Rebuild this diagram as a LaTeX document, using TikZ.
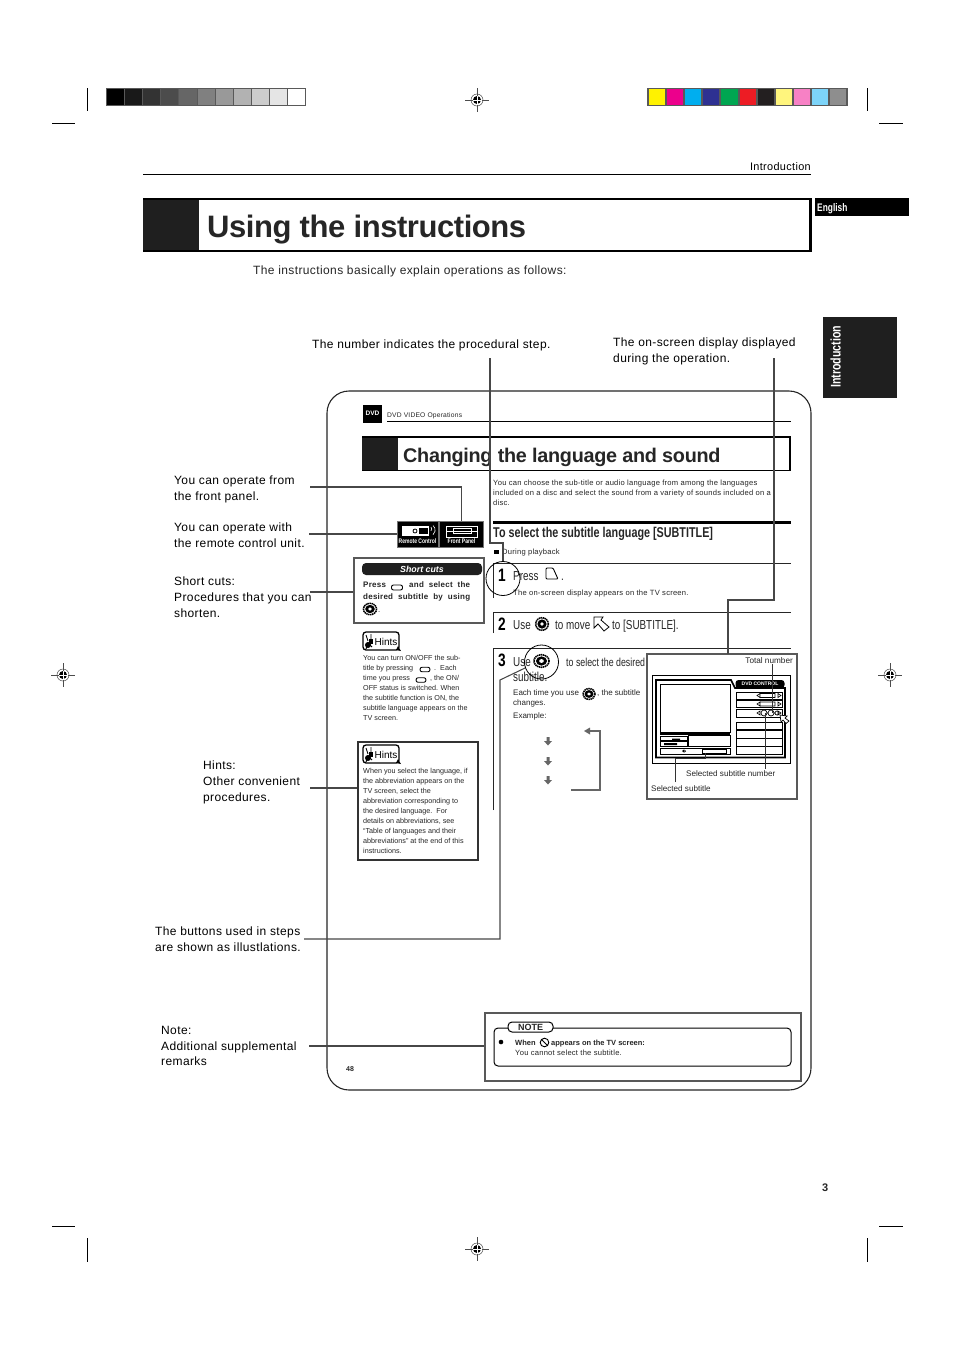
\documentclass[tikz,border=0pt]{standalone}
\usepackage{fontspec}
\setmainfont{Liberation Sans}
\newfontfamily\widefont[LetterSpace=3.2]{Liberation Sans}
\newfontfamily\smallfont[LetterSpace=3]{Liberation Sans}
\newfontfamily\tightfont[LetterSpace=-1.4]{Liberation Sans}
\newfontfamily\condfont[FakeStretch=0.76]{Liberation Sans}
\usetikzlibrary{positioning}

\definecolor{barframe}{gray}{0.35}
\definecolor{inktext}{gray}{0.15}
\definecolor{pagetab}{gray}{0.12}

\tikzset{
    txt/.style={anchor=mid west, inner sep=0pt, text=inktext, font=\smallfont\fontsize{7.6}{10}\selectfont},
    para/.style={anchor=north west, align=left, inner sep=0pt, yshift=-2.5pt, text=inktext, font=\fontsize{7.2}{10}\selectfont},
    calltxt/.style={anchor=north west, align=left, inner sep=0pt, yshift=-3pt, text=black, font=\widefont\fontsize{12}{15.6}\selectfont},
    steptxt/.style={anchor=mid west, inner sep=0pt, yshift=-2.5pt, text=inktext, font=\condfont\fontsize{13}{15}\selectfont},
    stepnum/.style={anchor=mid west, inner sep=0pt, yshift=-4pt, text=black, font=\condfont\bfseries\fontsize{18}{18}\selectfont},
    callout/.style={draw=black!72, line width=1.05pt},
    stepline/.style={draw=black!85, line width=0.8pt},
    ringmark/.style={circle, draw=black, line width=0.8pt, minimum size=34pt, inner sep=0pt},
    greybox/.style={rectangle, draw=black!65, line width=1.2pt, fill=white, inner sep=0pt},
    monrow/.style={draw=black, line width=0.8pt, fill=white},
    crop/.style={draw=black, line width=0.9pt},
    dialicon/.pic={
        \draw[black, line width=1.6pt, dash pattern=on 1.4pt off 0.6pt] (0,0) circle (6.3);
        \fill[white] (0,0) circle (5.2);
        \fill[black] (0,0) circle (4.6);
        \fill[white] (0,0) circle (1.9);
    },
    ovalbtn/.pic={
        \draw[black, line width=0.9pt, fill=white, rounded corners=2pt] (-5.5,-2.5) rectangle (5.5,2.5);
    },
    hintsicon/.pic={
        \draw[black, line width=1.3pt, fill=white, rounded corners=3pt] (0,0) rectangle (36,18);
        \fill[black] (5,13) circle (3);
        \draw[black, line width=1pt] (3,17) -- (5,11) -- (9,15);
        \fill[black] (6,7) rectangle (10,12);
        \draw[black, line width=0.9pt] (3,3) -- (5,9) (8,2) -- (8,8);
        \fill[black] (35,14) -- (38,19) -- (33,18) -- cycle;
        \node[anchor=mid west, inner sep=0pt, yshift=-1.5pt, font=\fontsize{10}{11}\selectfont] at (11.5,9) {Hints};
    },
    regmark/.pic={
        \draw[black!70, line width=0.5pt] (-12,0) -- (12,0);
        \draw[black!70, line width=0.5pt] (0,-12) -- (0,12);
        \draw[black!70, line width=0.5pt] (0,0) circle (6);
        \fill[black] (0,0) circle (4);
        \draw[white, line width=0.7pt] (-4.5,0) -- (4.5,0);
        \draw[white, line width=0.7pt] (0,-4.5) -- (0,4.5);
    }
}

\begin{document}
\begin{tikzpicture}[x=1pt,y=-1pt]
    \useasboundingbox (0,0) rectangle (954,1352);
    \fill[white] (0,0) rectangle (954,1352);

    % printer marks
    \draw[crop] (87,88) -- (87,111);
    \draw[crop] (52,123) -- (75,123);
    \draw[crop] (867,88) -- (867,111);
    \draw[crop] (879,123) -- (903,123);
    \draw[crop] (87,1238) -- (87,1262);
    \draw[crop] (52,1226) -- (75,1226);
    \draw[crop] (867,1238) -- (867,1262);
    \draw[crop] (879,1226) -- (903,1226);
    \pic at (477,100) {regmark};
    \pic at (477,1249) {regmark};
    \pic at (63,675) {regmark};
    \pic at (890,675) {regmark};

    \fill[barframe] (106,88) rectangle (306,106);
    \foreach \i/\g in {0/0,1/10,2/20,3/30,4/40,5/50,6/60,7/70,8/80,9/90,10/100}
        \fill[white!\g!black] ({107+\i*18.1},89) rectangle ({106+(\i+1)*18.1},105);

    \fill[barframe] (647,88) rectangle (848,106);
    \definecolor{c0}{HTML}{FFF200}\definecolor{c1}{HTML}{EC008C}\definecolor{c2}{HTML}{00AEEF}
    \definecolor{c3}{HTML}{2E3192}\definecolor{c4}{HTML}{00A651}\definecolor{c5}{HTML}{ED1C24}
    \definecolor{c6}{HTML}{231F20}\definecolor{c7}{HTML}{FFF57D}\definecolor{c8}{HTML}{F781C5}
    \definecolor{c9}{HTML}{7DD4F9}\definecolor{c10}{HTML}{8E8E8E}
    \foreach \i in {0,...,10}
        \fill[c\i] ({649+\i*18.1},89) rectangle ({648+(\i+1)*18.1-1},105);

    % page head
    \node[anchor=mid east, inner sep=0pt, yshift=-1pt, font=\widefont\fontsize{10.9}{12}\selectfont] (chapter) at (811,167) {Introduction};
    \draw[black, line width=0.8pt] (143,174.5) -- (811,174.5);
    \fill[pagetab] (143,198) rectangle (199,252);
    \draw[black, line width=2.4pt] (143,199) -- (810.5,199) -- (810.5,251) -- (143,251);
    \node[anchor=mid west, inner sep=0pt, text=inktext, font=\tightfont\bfseries\fontsize{31}{33}\selectfont] (pagetitle) at (207,235) {Using the instructions};
    \fill[black] (815,198) rectangle (909,216);
    \node[anchor=mid west, inner sep=0pt, text=white, yshift=-1pt, font=\condfont\bfseries\fontsize{11}{12}\selectfont] (lang) at (817,208) {English};
    \fill[pagetab] (823,317) rectangle (897,398);
    \node[rotate=90, anchor=mid west, inner sep=0pt, text=white, font=\condfont\bfseries\fontsize{14}{14}\selectfont] (sidetab) at (838,388) {Introduction};
    \node[anchor=mid west, inner sep=0pt, yshift=-2pt, text=inktext, font=\bfseries\fontsize{11}{12}\selectfont] (pagenum) at (822,1187) {3};
    \node[txt, yshift=-2pt, font=\widefont\fontsize{12}{14}\selectfont] (intro) at (253,270) {The instructions basically explain operations as follows:};

    % sample page
    \draw[black!85, line width=1.1pt, rounded corners=22pt] (327,391) rectangle (811,1090);

    \fill[black] (363,405) rectangle (382,423);
    \node[inner sep=0pt, text=white, font=\bfseries\fontsize{6.5}{7}\selectfont] (dvdlogo) at (372.5,413) {DVD};
    \node[txt, font=\smallfont\fontsize{6.7}{8}\selectfont] (section) at (387,415) {DVD VIDEO Operations};
    \draw[black, line width=0.7pt] (387,421) -- (791,421);
    \fill[pagetab] (362,436) rectangle (398,471);
    \draw[black, line width=1.6pt] (362,437) -- (790,437) -- (790,470.5) -- (362,470.5);
    \node[anchor=mid west, inner sep=0pt, text=inktext, font=\tightfont\bfseries\fontsize{19.8}{22}\selectfont] (subtitle) at (403,459.5) {Changing the language and sound};
    \node[para, font=\smallfont\fontsize{7.6}{10}\selectfont] (lead) at (493,477) {You can choose the sub-title or audio language from among the languages\\included on a disc and select the sound from a variety of sounds included on a\\disc.};
    \draw[black, line width=3pt] (493,522) -- (791,522);
    \node[anchor=mid west, inner sep=0pt, text=inktext, font=\condfont\bfseries\fontsize{14.2}{15}\selectfont] (heading) at (493,534.5) {To select the subtitle language [SUBTITLE]};
    \fill[black] (494,550) rectangle (499,554);
    \node[txt] (playback) at (502,552) {During playback};

    % steps
    \draw[stepline] (493,598) -- (493,563) -- (791,563);
    \node[stepnum] (num1) at (498,575) {1};
    \node[steptxt] (press) at (513,575) {Press};
    \draw[black, line width=0.9pt, rounded corners=1pt] (546,579) -- (546,568) -- (553,568) -- (558,579) -- cycle;
    \node[steptxt] (dot) at (561,575) {.};
    \node[txt] (ondisp) at (513,593) {The on-screen display appears on the TV screen.};
    \node[ringmark] (stepring1) at (503,578.5) {};

    \draw[stepline] (493,633) -- (493,612) -- (791,612);
    \node[stepnum] (num2) at (498,624) {2};
    \node[steptxt] (use2) at (513,624) {Use};
    \pic at (542,624) {dialicon};
    \node[steptxt] (tomove) at (555,624) {to move};
    \draw[black, line width=0.8pt] (594,617) -- (603,617) -- (601,620) -- (609,627) -- (604,631) -- (598,624) -- (594,628) -- cycle;
    \node[steptxt] (tosub) at (612,624) {to [SUBTITLE].};

    \draw[stepline] (493.5,810) -- (493.5,648) -- (791,648);
    \node[stepnum] (num3) at (498,660) {3};
    \node[steptxt] (use3) at (513,661) {Use};
    \pic[xscale=1.2] at (541.5,661) {dialicon};
    \node[steptxt, font=\condfont\fontsize{11.6}{15}\selectfont] (tosel) at (566,661) {to select the desired};
    \node[steptxt] (subt) at (513,676) {subtitle.};
    \node[ringmark] (stepring3) at (541.5,662) {};
    \node[txt, font=\fontsize{8}{10}\selectfont] (eachtime) at (513,693) {Each time you use};
    \pic[scale=0.85, xscale=1.15] at (589,694) {dialicon};
    \node[txt, font=\fontsize{8}{10}\selectfont] (thesub) at (597,693) {, the subtitle};
    \node[txt, font=\fontsize{8}{10}\selectfont] (changes) at (513,703) {changes.};
    \node[txt, font=\fontsize{8}{10}\selectfont] (example) at (513,716) {Example:};
    \foreach \y in {741,761,780}
        \fill[black!60] (546.5,{\y-4}) rectangle (549.5,\y) (544,\y) -- (552,\y) -- (548,{\y+4.5}) -- cycle;
    \draw[black!60, line width=2.5pt] (571,790) -- (600,790) -- (600,731) -- (589,731);
    \fill[black!60] (584,731) -- (590,727.5) -- (590,734.5) -- cycle;

    % remote and front panel pictograms
    \node[minimum width=41pt, minimum height=26pt, fill=black, draw=black!55, line width=1pt, inner sep=0pt] (remote) at (417.5,534) {};
    \node[minimum width=44pt, minimum height=26pt, fill=black, draw=black!55, line width=1pt, inner sep=0pt] (front) at (461.5,534) {};
    \fill[white] (402,526) rectangle (429,536);
    \draw[black, line width=0.8pt] (415,531) circle (2);
    \fill[black] (419,528) rectangle (428,534);
    \draw[white, line width=0.6pt] (431,527) arc (-40:40:3) (433,525.5) arc (-50:50:6);
    \node[inner sep=0pt, text=white, font=\condfont\bfseries\fontsize{6.6}{7}\selectfont] (remotelab) at (417.5,541.5) {Remote Control};
    \draw[white, line width=0.9pt] (446,526) rectangle (477,537);
    \draw[white, line width=0.8pt] (446,531) -- (477,531) (453,528.5) rectangle (471,533.5);
    \node[inner sep=0pt, text=white, font=\condfont\bfseries\fontsize{6.6}{7}\selectfont] (frontlab) at (461.5,541.5) {Front Panel};

    % short cuts box
    \node[greybox, minimum width=130pt, minimum height=65pt] (shortbox) at (419,590.5) {};
    \fill[pagetab, rounded corners=4pt] (362,563) rectangle (482,575);
    \node[inner sep=0pt, text=white, font=\bfseries\itshape\fontsize{8.8}{9}\selectfont] (shorthead) at (422,569) {Short cuts};
    \node[txt, font=\smallfont\bfseries\fontsize{8}{10}\selectfont] (sc1) at (363,585) {Press};
    \pic at (397,587.5) {ovalbtn};
    \node[txt, font=\smallfont\bfseries\fontsize{8}{10}\selectfont] (sc2) at (409,585) {\makebox[61pt][s]{and select the}};
    \node[txt, font=\smallfont\bfseries\fontsize{8}{10}\selectfont] (sc3) at (363,597) {\makebox[107pt][s]{desired subtitle by using}};
    \pic[scale=0.9, xscale=1.15] at (370,609) {dialicon};
    \node[txt] (sc4) at (378,610) {.};

    % hints
    \pic at (363,632) {hintsicon};
    \node[para] (hint1) at (363,653) {You can turn ON/OFF the sub-\\title by pressing\\time you press\\OFF status is switched. When\\the subtitle function is ON, the\\subtitle language appears on the\\TV screen.};
    \pic[scale=0.9] at (425,669.5) {ovalbtn};
    \node[txt, font=\fontsize{7.2}{10}\selectfont] (hint1a) at (434,668) {.\ \ Each};
    \pic[scale=0.9] at (421,680) {ovalbtn};
    \node[txt, font=\fontsize{7.2}{10}\selectfont] (hint1b) at (430,678) {, the ON/};

    \node[greybox, draw=black!80, minimum width=120pt, minimum height=118pt] (hintbox) at (418,801) {};
    \pic at (363,745) {hintsicon};
    \node[para] (hint2) at (363,766) {When you select the language, if\\the abbreviation appears on the\\TV screen, select the\\abbreviation corresponding to\\the desired language.\ \ For\\details on abbreviations, see\\``Table of languages and their\\abbreviations'' at the end of this\\instructions.};

    % note box
    \node[greybox, minimum width=316pt, minimum height=68pt] (notebox) at (643,1047) {};
    \draw[black, line width=1pt, rounded corners=4pt] (494,1028) rectangle (791,1066);
    \node[draw=black, line width=1pt, fill=white, rounded corners=4pt, minimum width=45pt, minimum height=10pt, inner sep=0pt, font=\bfseries\fontsize{9}{9}\selectfont, text=inktext] (notepill) at (530.5,1027) {NOTE};
    \fill[black] (501,1042) circle (2.3);
    \node[txt, font=\bfseries\fontsize{7.5}{9}\selectfont] (note1) at (515,1043) {When};
    \draw[black, line width=0.9pt] (544.5,1042.5) circle (4.3) (541.5,1039.5) -- (547.5,1045.5);
    \node[txt, font=\bfseries\fontsize{7.5}{9}\selectfont] (note2) at (551,1043) {appears on the TV screen:};
    \node[txt] (note3) at (515,1052.5) {You cannot select the subtitle.};
    \node[txt, font=\bfseries\fontsize{7}{9}\selectfont] (folio) at (346,1069) {48};

    % on-screen display box
    \node[greybox, minimum width=150pt, minimum height=145pt] (tvbox) at (722,726.5) {};
    \node[anchor=mid east, inner sep=0pt, text=inktext, font=\fontsize{8.2}{9}\selectfont] (totalnum) at (793,661) {Total number};
    \draw[black, line width=1pt] (652,675) rectangle (790,763);
    \draw[black, line width=1.6pt] (731,680) -- (656,680) -- (656,757.5) -- (785,757.5) -- (785,688) -- (735,688) -- cycle;
    \node[fill=black, rounded corners=3pt, minimum width=49pt, minimum height=8pt, inner sep=0pt, text=white, font=\bfseries\fontsize{5}{5}\selectfont] (dvdcontrol) at (760,684) {DVD CONTROL};
    \draw[monrow] (660,684) rectangle (730,732);
    \fill[black] (660,732) rectangle (730,734.5);
    \draw[monrow] (660,736) rectangle (687,746);
    \draw[black, line width=1.5pt] (660,741) -- (687,741);
    \fill[black] (672,738.5) rectangle (680,740) (664,743) rectangle (677,745);
    \draw[monrow] (688.5,735.5) rectangle (730,746);
    \draw[monrow] (660,748) rectangle (730,754.5);
    \draw[black, line width=0.9pt] (702,749.5) rectangle (726,753);
    \fill[black] (682,751) -- (684,749.5) -- (684,752.5) -- cycle (686,751) -- (684.5,749.5) -- (684.5,752.5) -- cycle;
    \draw[monrow] (736,692) rectangle (782,699);
    \draw[monrow] (736,700.5) rectangle (782,707.5);
    \draw[monrow] (736,709) rectangle (782,717);
    \draw[black, line width=0.6pt] (757,695.5) -- (760,693.5) -- (760,697.5) -- cycle (778,693.5) -- (781,695.5) -- (778,697.5) -- cycle (760,693.5) rectangle (775,697.5);
    \draw[black, line width=0.6pt] (757,704) -- (760,702) -- (760,706) -- cycle (778,702) -- (781,704) -- (778,706) -- cycle (760,702) rectangle (775,706);
    \draw[black, line width=0.6pt] (757,713) -- (760,711) -- (760,715) -- cycle (778,711) -- (781,713) -- (778,715) -- cycle;
    \draw[black, line width=0.7pt] (764,713) circle (3) (771,713) circle (3) (777,713) circle (2);
    \draw[monrow] (736,722) rectangle (782,754);
    \draw[black, line width=1.1pt] (736,730) -- (782,730) (736,738.5) -- (782,738.5) (736,746.5) -- (782,746.5);
    \draw[black, line width=0.7pt, fill=white] (780,715) -- (787,716) -- (785,718) -- (789,721) -- (786,723.5) -- (783,720) -- (781,722) -- cycle;
    \node[txt, font=\fontsize{8.1}{9}\selectfont] (selnumtxt) at (686,774) {Selected subtitle number};
    \node[txt, font=\fontsize{8.1}{9}\selectfont] (seltxt) at (651,789) {Selected subtitle};
    \coordinate (totaldot) at (772,713);
    \coordinate (seldot) at (765,713);
    \coordinate (selbar) at (705,753);
    \coordinate (selfoot) at (675,782);
    \draw[black!80, line width=0.8pt] (totalnum.south -| totaldot) -- (totaldot);
    \draw[black!80, line width=0.8pt, shorten >=1.5pt] (seldot) -- (seldot |- selnumtxt.north);
    \draw[black!80, line width=0.8pt] (selfoot) |- (705,758) -- (selbar);

    % callouts
    \node[calltxt] (numcall) at (312,337) {The number indicates the procedural step.};
    \node[calltxt] (dispcall) at (613,335) {The on-screen display displayed\\during the operation.};
    \node[calltxt] (frontcall) at (174,473) {You can operate from\\the front panel.};
    \node[calltxt] (remotecall) at (174,520) {You can operate with\\the remote control unit.};
    \node[calltxt] (shortcall) at (174,574) {Short cuts:\\Procedures that you can\\shorten.};
    \node[calltxt] (hintcall) at (203,758) {Hints:\\Other convenient\\procedures.};
    \node[calltxt] (btncall) at (155,924) {The buttons used in steps\\are shown as illustlations.};
    \node[calltxt] (notecall) at (161,1023) {Note:\\Additional supplemental\\remarks};

    \coordinate (numend) at (490,358);
    \coordinate (dispend) at (774,358);
    \coordinate (frontend) at (310,487);
    \coordinate (remoteend) at (309,534);
    \coordinate (shortend) at (310,592);
    \coordinate (hintend) at (310,788);
    \coordinate (btnend) at (304,939);
    \coordinate (noteend) at (309,1046);

    \draw[callout] (numend) -- (490,543) -- (503,543) -- (stepring1.north);
    \draw[callout] (dispend) -- (774,600) -- (728,600) -- (728,654);
    \draw[callout] (frontend) -| (front.north);
    \draw[callout] (remoteend) -- (remote.west);
    \draw[callout] (shortend) -- (shortend -| shortbox.west);
    \draw[callout] (hintend) -- (hintend -| hintbox.west);
    \draw[callout] (btnend) -- (500,939) -- (500,680) -- (stepring3.200);
    \draw[callout] (noteend) -- (noteend -| notebox.west);
\end{tikzpicture}
\end{document}
